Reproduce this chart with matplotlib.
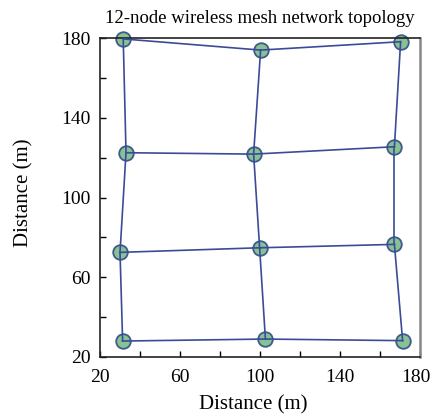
import matplotlib
matplotlib.use("Agg")
import matplotlib.pyplot as plt
from matplotlib.ticker import MultipleLocator
from matplotlib.transforms import ScaledTranslation

plt.rcParams['font.family'] = ['Liberation Serif', 'DejaVu Serif']

# node coordinates (m), rows from top to bottom, columns left to right
node_x = [31.6, 100.3, 170.3,
          33.0, 96.8, 167.2,
          30.0, 99.8, 167.2,
          31.3, 102.7, 171.3]
node_y = [179.6, 174.0, 178.2,
          122.5, 121.8, 125.5,
          72.5, 74.8, 76.5,
          28.0, 29.0, 28.2]
# links between node indices
links = [(0, 1), (1, 2), (3, 4), (4, 5), (6, 7), (7, 8), (9, 10), (10, 11),
         (0, 3), (3, 6), (6, 9), (1, 4), (4, 7), (7, 10), (2, 5), (5, 8), (8, 11)]

title = "12-node wireless mesh network topology"
xlabel = "Distance (m)"
ylabel = "Distance (m)"
ticks = [20, 60, 100, 140, 180]

fig = plt.figure(figsize=(4.33, 4.19), dpi=100)
ax = fig.add_axes([0.231, 0.148, 0.739, 0.761])

ax.scatter(node_x, node_y, s=110, facecolor='#86c293', edgecolor='#3f5a8c',
           linewidth=1.3, zorder=2, clip_on=False)
for a, b in links:
    ax.plot([node_x[a], node_x[b]], [node_y[a], node_y[b]], color='#3b4b98',
            linewidth=1.2, zorder=3, clip_on=False)

ax.set_xlim(20, 180)
ax.set_ylim(20, 180)
ax.set_xticks(ticks)
ax.set_yticks(ticks)
ax.xaxis.set_minor_locator(MultipleLocator(20))
ax.yaxis.set_minor_locator(MultipleLocator(20))
ax.tick_params(which='both', direction='in', length=4, width=1.0, labelsize=14,
               top=False, right=False)
ax.tick_params(axis='x', pad=9)
ax.tick_params(axis='y', pad=7)
for s in ['left', 'bottom', 'top']:
    ax.spines[s].set_color('#222222')
    ax.spines[s].set_linewidth(1.2)
ax.spines['right'].set_color('#888888')
ax.spines['right'].set_linewidth(1.8)

ax.set_title(title, fontsize=13.5, pad=11)
ax.set_xlabel(xlabel, fontsize=15, labelpad=6)
ax.set_ylabel(ylabel, fontsize=15, labelpad=20)
ax.xaxis.label.set_x(0.478)
ax.yaxis.label.set_y(0.516)

# nudge the last x tick label inward so it stays within the figure
fig.canvas.draw()
last = ax.get_xticklabels()[-1]
last.set_transform(last.get_transform() + ScaledTranslation(-4 / 100, 0, fig.dpi_scale_trans))

fig.savefig("out.png", dpi=100)
